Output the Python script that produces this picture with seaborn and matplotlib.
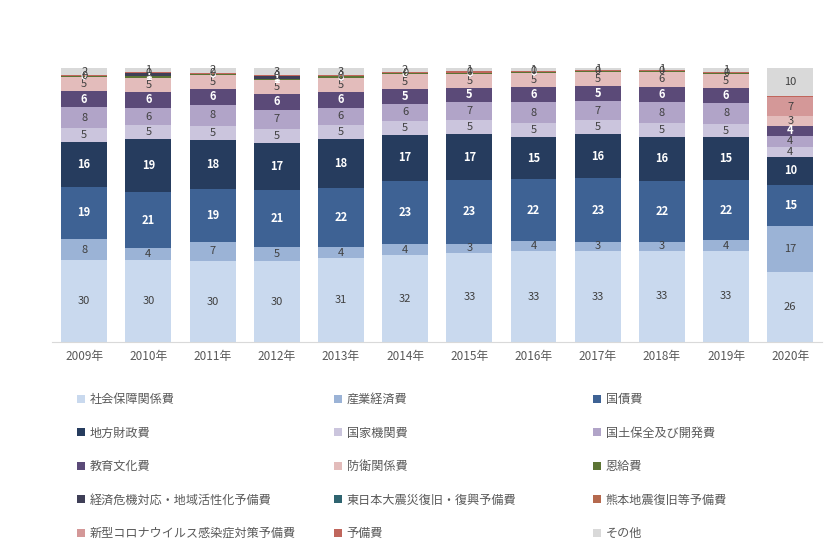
import pandas as pd
import seaborn as sns
import matplotlib.pyplot as plt
from matplotlib.patches import Patch
from matplotlib.colors import to_rgb

# 年度
years = [2009, 2010, 2011, 2012, 2013, 2014, 2015, 2016, 2017, 2018, 2019, 2020]

# 歳出の構成比 (%), 下から順に
categories = ["社会保障関係費", "産業経済費", "国債費", "地方財政費", "国家機関費",
              "国土保全及び開発費", "教育文化費", "防衛関係費", "恩給費",
              "経済危機対応・地域活性化予備費", "東日本大震災復旧・復興予備費",
              "熊本地震復旧等予備費", "新型コロナウイルス感染症対策予備費", "予備費", "その他"]

shakai   = [29.8, 29.9, 29.6, 29.6, 30.6, 31.8, 32.7, 33.1, 33.3, 33.4, 33.4, 25.6]
sangyo   = [7.9, 4.3, 7.0, 5.1, 4.2, 4.0, 3.2, 3.8, 3.3, 3.2, 3.7, 16.8]
kokusai  = [19.0, 20.6, 19.2, 20.9, 21.6, 23.1, 23.4, 22.5, 23.2, 22.3, 22.2, 15.0]
chiho    = [16.2, 19.2, 18.0, 17.1, 17.6, 16.8, 16.5, 15.3, 16.0, 15.9, 15.4, 10.2]
kikan    = [5.1, 5.2, 5.2, 5.2, 5.3, 5.2, 5.2, 5.2, 5.3, 5.2, 5.1, 3.7]
kokudo   = [7.8, 6.3, 7.6, 7.0, 6.2, 6.2, 6.6, 7.6, 6.9, 7.6, 7.5, 4.1]
kyoiku   = [5.9, 5.8, 5.9, 5.7, 5.8, 5.4, 5.3, 5.6, 5.4, 5.6, 5.5, 3.6]
boei     = [5.0, 5.2, 5.0, 5.0, 5.2, 5.2, 5.1, 5.1, 5.2, 5.5, 5.1, 3.4]
onkyu    = [0.4, 0.6, 0.5, 0.6, 0.5, 0.4, 0.4, 0.4, 0.3, 0.2, 0.2, 0.0]
keizai   = [0.0, 1.1, 0.0, 0.8, 0.0, 0.0, 0.0, 0.0, 0.0, 0.0, 0.0, 0.0]
higashi  = [0.0] * 12
kumamoto = [0.0] * 12
corona   = [0.0, 0.0, 0.0, 0.0, 0.0, 0.0, 0.0, 0.0, 0.0, 0.0, 0.0, 7.1]
yobi     = [0.4, 0.4, 0.4, 0.4, 0.4, 0.4, 0.4, 0.4, 0.4, 0.4, 0.5, 0.3]
sonota   = [2.5, 1.4, 1.6, 2.6, 2.6, 1.5, 1.2, 1.0, 0.9, 0.7, 1.4, 10.1]

colors = ["#c9d9ee", "#9bb3d6", "#3e6294", "#263c5e", "#cbc5dd",
          "#b1a4c8", "#5b4a78", "#e3bcbb", "#5c7434",
          "#3f3f57", "#2f6470", "#b5694e", "#d49898", "#c0665c", "#d9d9d9"]

series = [shakai, sangyo, kokusai, chiho, kikan, kokudo, kyoiku, boei, onkyu,
          keizai, higashi, kumamoto, corona, yobi, sonota]

df = pd.DataFrame([
    {"year": y, "cat": c, "value": v}
    for c, vals in zip(categories, series)
    for y, v in zip(years, vals)
])

sns.set_theme(style="white")
plt.rcParams['font.family'] = ['Noto Sans CJK JP', 'DejaVu Sans']

fig = plt.figure(figsize=(8.4, 5.59), dpi=100)
ax = fig.add_axes([0.062, 0.388, 0.917, 0.49])

# seaborn は最初の hue を一番上に積むので逆順で渡す
sns.histplot(data=df, x="year", hue="cat", weights="value", multiple="stack",
             discrete=True, shrink=0.715, hue_order=categories[::-1],
             palette=dict(zip(categories, colors)), alpha=1, linewidth=0,
             legend=False, ax=ax)

# データラベル
for cont in ax.containers:
    r, g, b = to_rgb(cont.patches[0].get_facecolor()[:3])
    dark = 0.299 * r + 0.587 * g + 0.114 * b < 0.4
    labels = [f"{v:.0f}" if v >= 0.35 else "" for v in cont.datavalues]
    ax.bar_label(cont, labels=labels, label_type="center", fontsize=8,
                 color="white" if dark else "#404040",
                 fontweight="bold" if dark else "normal")

ax.set_xlim(2008.5, 2020.5)
ax.set_ylim(0, 100)
ax.set_xticks(years)
ax.set_xticklabels([f"{y}年" for y in years], fontsize=8.5, color="#595959")
ax.set_yticks([])
ax.set_xlabel("")
ax.set_ylabel("")
ax.tick_params(axis="x", length=0, pad=6)
for s in ["top", "right", "left"]:
    ax.spines[s].set_visible(False)
ax.spines["bottom"].set_color("#d9d9d9")
ax.spines["bottom"].set_linewidth(0.8)

# 凡例 (3列, 行方向に並べる)
handles = [Patch(facecolor=c, edgecolor="none") for c in colors]
col_x = [0.0917, 0.3976, 0.706]
for i, x in enumerate(col_x):
    idx = list(range(i, len(categories), 3))
    fig.legend([handles[j] for j in idx], [categories[j] for j in idx],
               loc="upper left", bbox_to_anchor=(x, 0.297), frameon=False,
               borderpad=0, borderaxespad=0, handlelength=0.65, handleheight=0.65,
               handletextpad=0.4, labelspacing=1.70, fontsize=8.7,
               labelcolor="#595959")

fig.savefig("out.png", dpi=100)
